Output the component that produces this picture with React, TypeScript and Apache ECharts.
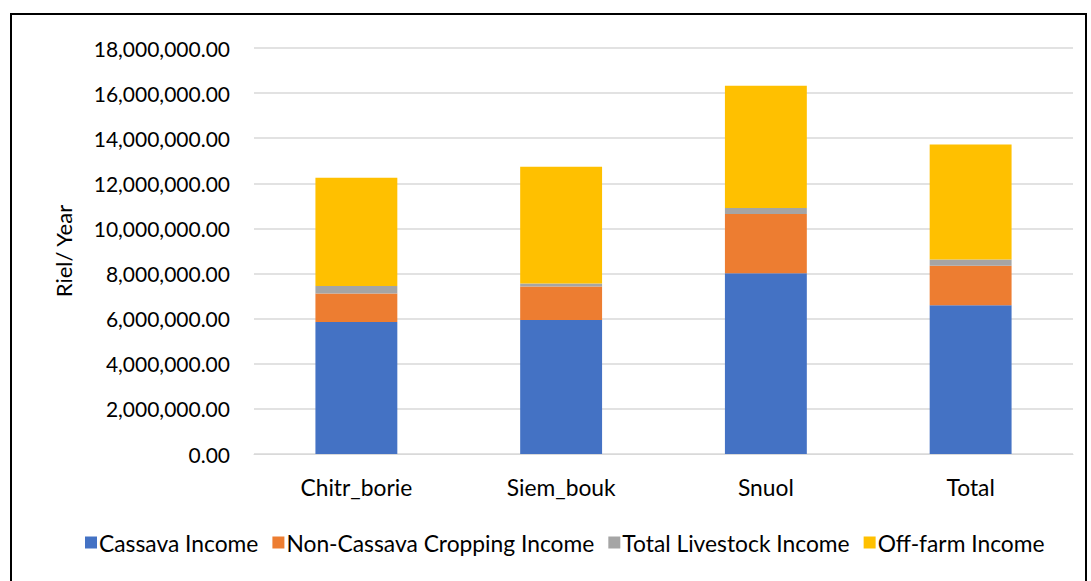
import React, { useEffect, useRef } from "react";
import * as echarts from "echarts";

const categories = ["Chitr_borie", "Siem_bouk", "Snuol", "Total"];
const cassava = [5850000, 5940000, 8010000, 6590000];
const nonCassava = [1270000, 1490000, 2630000, 1760000];
const livestock = [330000, 130000, 270000, 270000];
const offFarm = [4800000, 5180000, 5420000, 5100000];

const seriesNames = [
  "Cassava Income",
  "Non-Cassava Cropping Income",
  "Total Livestock Income",
  "Off-farm Income",
];
const colors = ["#4472C4", "#ED7D31", "#A5A5A5", "#FFC000"];

const FONT = "Lato, 'Open Sans', sans-serif";

export default function App() {
  const ref = useRef<HTMLDivElement>(null);
  useEffect(() => {
    if (!ref.current) return;
    const chart = echarts.init(ref.current, undefined, { renderer: "svg" });
    const data = [cassava, nonCassava, livestock, offFarm];
    chart.setOption({
      animation: false,
      color: colors,
      textStyle: { fontFamily: FONT },
      grid: { left: 254, right: 18, top: 48, bottom: 127, containLabel: false },
      legend: {
        bottom: 22,
        left: 80,
        itemWidth: 12,
        itemHeight: 12,
        itemGap: 14,
        icon: "rect",
        textStyle: { fontSize: 22.8, color: "#000", fontFamily: FONT, padding: [0, 0, 0, -3] },
        data: seriesNames,
      },
      xAxis: {
        type: "category",
        data: categories,
        axisTick: { show: false },
        axisLine: { lineStyle: { color: "#d9d9d9", width: 1 } },
        axisLabel: { fontSize: 22.8, color: "#000", margin: 21, fontFamily: FONT },
      },
      yAxis: {
        type: "value",
        min: 0,
        max: 18000000,
        interval: 2000000,
        name: "Riel/ Year",
        nameLocation: "middle",
        nameGap: 180,
        nameTextStyle: { fontSize: 22, color: "#000", fontFamily: FONT },
        axisLabel: {
          fontSize: 21,
          color: "#000",
          margin: 24,
          fontFamily: FONT,
          formatter: (v: number) =>
            v.toLocaleString("en-US", { minimumFractionDigits: 2, maximumFractionDigits: 2 }),
        },
        splitLine: { lineStyle: { color: "#d9d9d9", width: 1.5 } },
      },
      series: seriesNames.map((name, i) => ({
        name,
        type: "bar",
        stack: "total",
        barWidth: "40%",
        data: data[i],
        itemStyle: { color: colors[i] },
      })),
    });
    return () => chart.dispose();
  }, []);
  return (
    <div style={{ position: "fixed", left: 0, top: 0, width: 1091, height: 581, background: "#fff" }}>
      <div
        style={{
          position: "absolute",
          left: 10,
          top: 13,
          width: 1077,
          height: 600,
          border: "2px solid #000",
          boxSizing: "border-box",
        }}
      />
      <div ref={ref} style={{ position: "absolute", left: 0, top: 0, width: 1091, height: 581 }} />
    </div>
  );
}
